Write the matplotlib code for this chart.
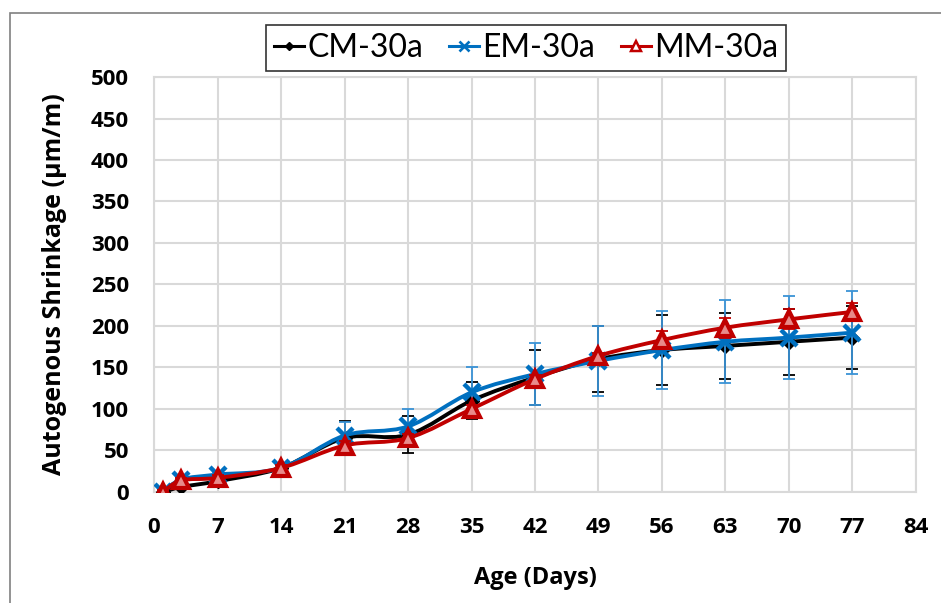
import numpy as np
import matplotlib
matplotlib.use("Agg")
import matplotlib.pyplot as plt
from matplotlib.path import Path
from matplotlib.patches import PathPatch, Rectangle
from matplotlib.lines import Line2D

days = [1, 3, 7, 14, 21, 28, 35, 42, 49, 56, 63, 70, 77]
cm = [0, 6, 13, 29, 65, 69, 110, 138, 160, 171, 176, 181, 186]
em = [0, 15, 21, 29, 68, 79, 120, 142, 158, 171, 181, 186, 192]
mm = [0, 14, 17, 29, 56, 65, 100, 136, 164, 183, 198, 208, 217]
cm_err = [2, 3, 3, 3, 20, 22, 22, 33, 40, 42, 40, 40, 38]
em_err = [2, 3, 3, 3, 16, 21, 31, 37, 42, 47, 50, 50, 50]
mm_err = [2, 3, 3, 3, 5, 5, 5, 5, 4, 11, 12, 12, 11]

labels = ["CM-30a", "EM-30a", "MM-30a"]
xticks = list(range(0, 85, 7))
yticks = list(range(0, 501, 50))

plt.rcParams['font.family'] = ['Open Sans', 'DejaVu Sans']


def smooth_path(x, y):
    # catmull-rom style bezier through the points (like excel smoothed lines)
    p = np.column_stack([x, y]).astype(float)
    verts = [p[0]]
    codes = [Path.MOVETO]
    n = len(p)
    for i in range(n - 1):
        p0 = p[i - 1] if i > 0 else p[i]
        p3 = p[i + 2] if i + 2 < n else p[i + 1]
        c1 = p[i] + (p[i + 1] - p0) / 6
        c2 = p[i + 1] - (p3 - p[i]) / 6
        verts += [c1, c2, p[i + 1]]
        codes += [Path.CURVE4] * 3
    return Path(verts, codes)


fig = plt.figure(figsize=(9.41, 6.03), dpi=100)
ax = fig.add_axes([0.1637, 0.1841, 0.9734 - 0.1637, 0.8723 - 0.1841])

# outer chart border
fig.patches.append(Rectangle((10 / 941, -0.05), 1.0, (603 - 13) / 603 + 0.05,
                             transform=fig.transFigure, fill=False,
                             edgecolor='#808080', linewidth=1.2))

series = [
    (cm, cm_err, 'black', 'black', dict(marker='D', markersize=7, markerfacecolor='black',
                                         markeredgecolor='black')),
    (em, em_err, '#0070C0', '#3A93D6', dict(marker='x', markersize=11, markeredgewidth=3.2,
                                             markeredgecolor='#0070C0')),
    (mm, mm_err, '#C00000', '#C00000', dict(marker='^', markersize=11, markerfacecolor='#e88a8a',
                                             markeredgecolor='#C00000', markeredgewidth=3)),
]

handles = []
for k, (vals, err, col, ecol, mk) in enumerate(series):
    ax.errorbar(days, vals, yerr=err, fmt='none', ecolor=ecol, elinewidth=1.3,
                capsize=4, capthick=1.3, zorder=3 + k)
    ax.add_patch(PathPatch(smooth_path(days, vals), fill=False, edgecolor=col,
                           linewidth=2.8, zorder=3 + k))
    ax.plot(days, vals, linestyle='none', zorder=3 + k, **mk)
    hmk = dict(mk)
    hmk['markersize'] = mk['markersize'] * 0.6
    if 'markeredgewidth' in hmk:
        hmk['markeredgewidth'] = mk['markeredgewidth'] * 0.6
    if mk['marker'] == '^':
        hmk['markerfacecolor'] = 'white'
    handles.append(Line2D([], [], color=col, linewidth=2.2, **hmk))

ax.set_xlim(0, 84)
ax.set_ylim(0, 500)
ax.set_xticks(xticks)
ax.set_yticks(yticks)
ax.tick_params(length=0, labelsize=16)
ax.tick_params(axis='x', pad=18)
ax.tick_params(axis='y', pad=18)
for t in ax.get_xticklabels() + ax.get_yticklabels():
    t.set_fontweight('bold')
ax.grid(True, color='#d9d9d9', linewidth=1.5, zorder=0)
ax.set_axisbelow(True)
for s in ax.spines.values():
    s.set_color('#d9d9d9')
    s.set_linewidth(1.5)

ax.set_xlabel('Age (Days)', fontsize=17, fontweight='bold', labelpad=20)
ax.set_ylabel('Autogenous Shrinkage (\u00b5m/m)', fontsize=18, fontweight='bold', labelpad=17)

leg = fig.legend(handles, labels, loc='center', bbox_to_anchor=(526 / 941, (603 - 48) / 603),
                 ncol=3, prop={'family': ['Lato', 'DejaVu Sans'], 'size': 23},
                 frameon=True, fancybox=False, edgecolor='black',
                 handlelength=0.95, handletextpad=0.1, columnspacing=0.8,
                 borderpad=0.25)
leg.get_frame().set_linewidth(1.2)

fig.savefig('out.png', dpi=100)
